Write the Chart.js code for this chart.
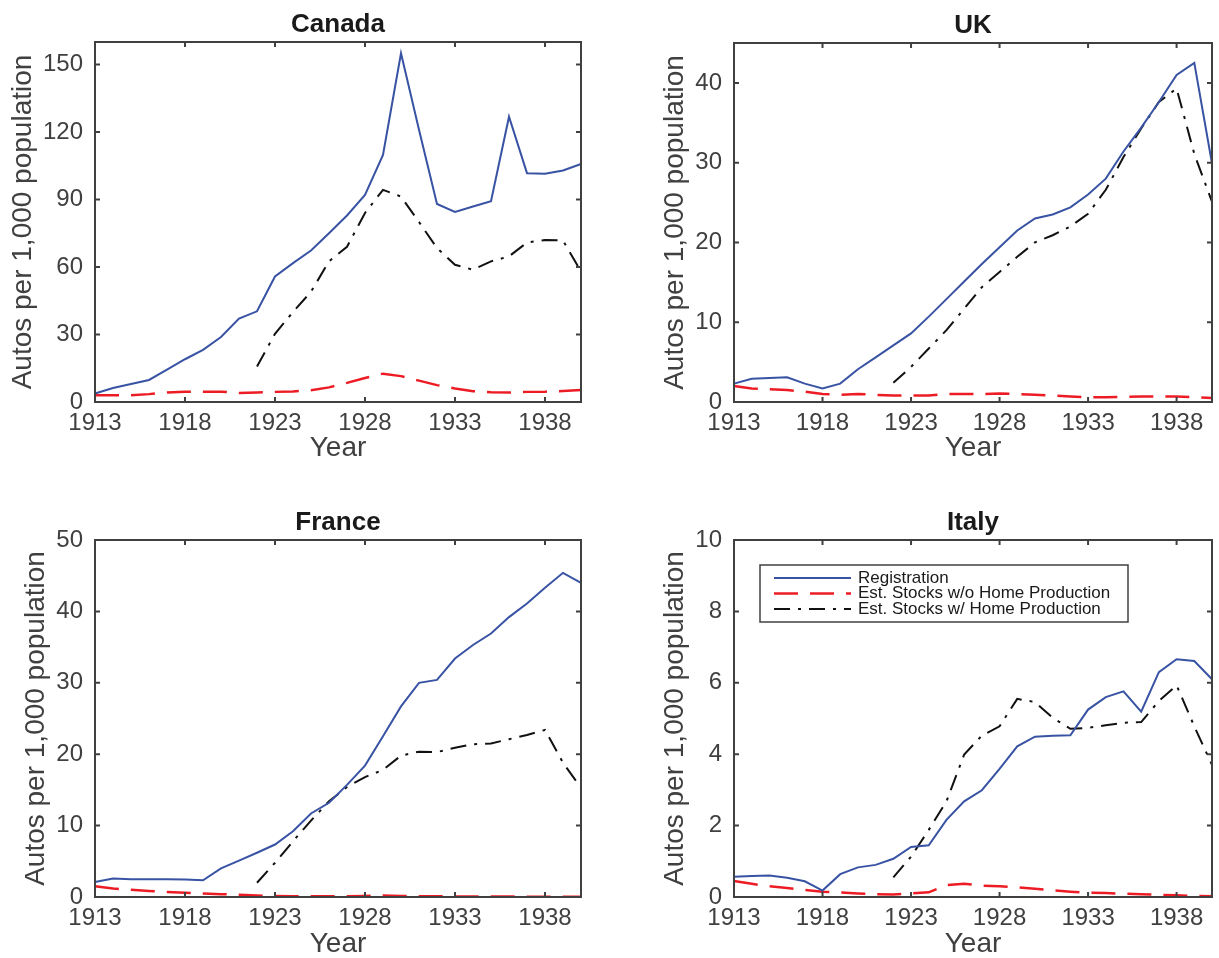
<!DOCTYPE html>
<html>
<head>
<meta charset="utf-8">
<script src="https://cdn.jsdelivr.net/npm/chart.js@4.4.1/dist/chart.umd.min.js"></script>
<style>
  body { margin: 0; background: #fff; }
  #wrap { position: relative; width: 1219px; height: 958px; }
  canvas { position: absolute; }
</style>
</head>
<body>
<div id="wrap">
  <canvas id="canadaChart" width="610" height="480" style="left:0;top:0"></canvas>
  <canvas id="ukChart" width="609" height="480" style="left:610px;top:0"></canvas>
  <canvas id="franceChart" width="610" height="478" style="left:0;top:480px"></canvas>
  <canvas id="italyChart" width="609" height="478" style="left:610px;top:480px"></canvas>
</div>
<script>
// ---- data ----
const years = [1913, 1914, 1915, 1916, 1917, 1918, 1919, 1920, 1921, 1922, 1923, 1924, 1925, 1926,
               1927, 1928, 1929, 1930, 1931, 1932, 1933, 1934, 1935, 1936, 1937, 1938, 1939, 1940];
const xTicks = [1913, 1918, 1923, 1928, 1933, 1938];
const seriesNames = ['Registration', 'Est. Stocks w/o Home Production', 'Est. Stocks w/ Home Production'];

const canadaReg = [3.8, 6.2, 8, 9.8, 14.4, 19, 23.2, 28.9, 37.1, 40.3, 55.8, 61.7, 67.3, 75,
                   82.9, 92, 109.8, 155, 121, 88, 84.5, 86.9, 89.2, 126.8, 101.7, 101.4, 102.9, 105.8];
const canadaNoHome = [3, 3, 3, 3.5, 4.2, 4.6, 4.6, 4.6, 4.0, 4.2, 4.5, 4.7, 5.2, 6.5,
                      8.5, 10.7, 12.6, 11.5, 9.5, 7.5, 6.0, 4.8, 4.3, 4.2, 4.5, 4.6, 4.9, 5.3];
const canadaHome = [null, null, null, null, null, null, null, null, null, 15.8, 30.3, 40, 49, 62.5,
                    69, 84, 94.3, 91.3, 80, 68.4, 61, 58.8, 62.5, 64.7, 70.9, 72, 71.8, 58];
const canadaYTicks = [0, 30, 60, 90, 120, 150];

const ukReg = [2.3, 2.9, 3.0, 3.1, 2.3, 1.7, 2.3, 4.1, 5.6, 7.1, 8.6, 10.7, 12.9, 15.1,
               17.3, 19.4, 21.5, 23.0, 23.5, 24.4, 26.0, 28.0, 31.4, 34.4, 37.6, 41.0, 42.5, 29.9];
const ukNoHome = [2.0, 1.7, 1.6, 1.5, 1.3, 1.0, 0.9, 1.0, 0.9, 0.8, 0.8, 0.8, 1.0, 1.0,
                  1.0, 1.05, 1.0, 0.9, 0.8, 0.7, 0.6, 0.6, 0.65, 0.7, 0.7, 0.7, 0.6, 0.5];
const ukHome = [null, null, null, null, null, null, null, null, null, 2.4, 4.4, 6.7, 9.0, 11.7,
                14.4, 16.3, 18.2, 20.0, 20.9, 22.0, 23.6, 26.6, 30.7, 34.3, 37.6, 39.3, 31.1, 25.1];
const ukYTicks = [0, 10, 20, 30, 40];

const franceReg = [2.1, 2.6, 2.5, 2.5, 2.5, 2.45, 2.35, 4.0, 5.1, 6.2, 7.35, 9.2, 11.7, 13.2,
                   15.7, 18.4, 22.5, 26.7, 30.0, 30.4, 33.4, 35.3, 36.9, 39.2, 41.1, 43.3, 45.4, 44.0];
const franceNoHome = [1.5, 1.2, 1.0, 0.85, 0.7, 0.6, 0.5, 0.4, 0.3, 0.2, 0.15, 0.1, 0.1, 0.1,
                      0.12, 0.15, 0.2, 0.15, 0.12, 0.1, 0.08, 0.07, 0.06, 0.06, 0.05, 0.05, 0.05, 0.05];
const franceHome = [null, null, null, null, null, null, null, null, null, 2.0, 4.8, 7.8, 10.7, 13.4,
                    15.4, 16.8, 17.8, 19.8, 20.35, 20.3, 20.9, 21.4, 21.5, 22.1, 22.7, 23.4, 18.8, 15.3];
const franceYTicks = [0, 10, 20, 30, 40, 50];

const italyReg = [0.57, 0.59, 0.6, 0.54, 0.44, 0.18, 0.64, 0.83, 0.9, 1.07, 1.4, 1.45, 2.16, 2.68,
                  2.99, 3.59, 4.22, 4.49, 4.52, 4.53, 5.25, 5.6, 5.76, 5.19, 6.3, 6.66, 6.61, 6.1];
const italyNoHome = [0.45, 0.37, 0.3, 0.25, 0.2, 0.15, 0.13, 0.1, 0.08, 0.07, 0.1, 0.13, 0.33, 0.37,
                     0.32, 0.3, 0.27, 0.23, 0.19, 0.15, 0.12, 0.11, 0.09, 0.08, 0.06, 0.05, 0.03, 0.02];
const italyHome = [null, null, null, null, null, null, null, null, null, 0.55, 1.13, 1.88, 2.68, 3.99,
                   4.52, 4.78, 5.55, 5.46, 5.02, 4.71, 4.74, 4.81, 4.88, 4.9, 5.49, 5.93, 4.78, 3.7];
const italyYTicks = [0, 2, 4, 6, 8, 10];

const axisColor = '#404040';
Chart.defaults.font.family = '"Liberation Sans", Arial, Helvetica, sans-serif';
Chart.defaults.color = axisColor;

// frame, inside ticks, panel title and (optional) legend box, MATLAB style
const framePlugin = {
  id: 'frame',
  afterDraw(chart, args, opts) {
    const { ctx, chartArea: a, scales: { x, y } } = chart;
    ctx.save();
    ctx.strokeStyle = axisColor;
    ctx.lineWidth = 2;
    ctx.setLineDash([]);
    ctx.strokeRect(a.left, a.top, a.right - a.left, a.bottom - a.top);

    ctx.beginPath();
    xTicks.forEach(t => {
      const px = x.getPixelForValue(years.indexOf(t));
      ctx.moveTo(px, a.bottom); ctx.lineTo(px, a.bottom - 5);
      ctx.moveTo(px, a.top); ctx.lineTo(px, a.top + 5);
    });
    y.ticks.forEach(t => {
      const py = y.getPixelForValue(t.value);
      ctx.moveTo(a.left, py); ctx.lineTo(a.left + 5, py);
      ctx.moveTo(a.right, py); ctx.lineTo(a.right - 5, py);
    });
    ctx.stroke();

    ctx.fillStyle = '#1a1a1a';
    ctx.font = 'bold 26px "Liberation Sans", Arial, sans-serif';
    ctx.textAlign = 'center';
    ctx.textBaseline = 'alphabetic';
    ctx.fillText(opts.title, (a.left + a.right) / 2, a.top - 10);

    if (opts.legend) {
      const bx = a.left + 26, by = a.top + 25, bw = 368, bh = 57;
      ctx.fillStyle = '#fff';
      ctx.fillRect(bx, by, bw, bh);
      ctx.lineWidth = 1.5;
      ctx.strokeRect(bx, by, bw, bh);
      ctx.font = '17px "Liberation Sans", Arial, sans-serif';
      ctx.textAlign = 'left';
      ctx.textBaseline = 'middle';
      chart.data.datasets.forEach((ds, i) => {
        const ly = by + 13 + i * 15.5;
        ctx.beginPath();
        ctx.strokeStyle = ds.borderColor;
        ctx.lineWidth = ds.borderWidth;
        ctx.setLineDash(ds.borderDash || []);
        ctx.moveTo(bx + 14, ly); ctx.lineTo(bx + 91, ly);
        ctx.stroke();
        ctx.fillStyle = '#1a1a1a';
        ctx.fillText(ds.label, bx + 98, ly);
      });
    }
    ctx.restore();
  }
};

function makeChart(p) {
  const canvasEl = document.getElementById(p.id);
  return new Chart(canvasEl, {
    type: 'line',
    data: {
      labels: years,
      datasets: [
        { label: seriesNames[0], data: p.reg, borderColor: '#3953a4', borderWidth: 2, pointRadius: 0, tension: 0 },
        { label: seriesNames[1], data: p.noHome, borderColor: '#ed1c24', borderWidth: 2.5, borderDash: [24, 12], pointRadius: 0, tension: 0 },
        { label: seriesNames[2], data: p.home, borderColor: '#111111', borderWidth: 2, borderDash: [16, 8, 3, 8], pointRadius: 0, tension: 0 }
      ]
    },
    options: {
      responsive: false,
      animation: false,
      events: [],
      layout: { padding: { top: p.area.top, right: p.w - p.area.right, left: 0, bottom: 0 } },
      plugins: {
        legend: { display: false },
        tooltip: { enabled: false },
        frame: { title: p.title, legend: p.legend }
      },
      scales: {
        x: {
          type: 'category',
          grid: { display: false, drawTicks: false },
          border: { display: false },
          ticks: {
            autoSkip: false, maxRotation: 0, padding: 7,
            font: { size: 24 }, color: axisColor,
            callback: function (value) {
              const lab = this.getLabelForValue(value);
              return xTicks.includes(Number(lab)) ? String(lab) : '';
            }
          },
          title: { display: true, text: 'Year', color: axisColor, font: { size: 28, lineHeight: 1 }, padding: { top: 0, bottom: p.xTitlePad } },
          afterFit: s => { s.height = p.h - p.area.bottom; }
        },
        y: {
          min: 0, max: p.yMax,
          grid: { display: false, drawTicks: false },
          border: { display: false },
          ticks: { padding: 12, font: { size: 24 }, color: axisColor },
          afterBuildTicks: s => { s.ticks = p.yTicks.map(v => ({ value: v })); },
          title: { display: true, text: 'Autos per 1,000 population', color: axisColor, font: { size: 28, lineHeight: 1 }, padding: { top: p.yTitleC - 14, bottom: 0 } },
          afterFit: s => { s.width = p.area.left; }
        }
      }
    },
    plugins: [framePlugin]
  });
}

makeChart({ id: 'canadaChart', title: 'Canada', w: 610, h: 480, area: { left: 95, top: 42, right: 581, bottom: 402 },
  yTitleC: 23.5, xTitlePad: 18, yMax: 160, yTicks: canadaYTicks, reg: canadaReg, noHome: canadaNoHome, home: canadaHome });
makeChart({ id: 'ukChart', title: 'UK', w: 609, h: 480, area: { left: 124, top: 43, right: 608, bottom: 402 },
  yTitleC: 675 - 610, xTitlePad: 18, yMax: 45, yTicks: ukYTicks, reg: ukReg, noHome: ukNoHome, home: ukHome });
makeChart({ id: 'franceChart', title: 'France', w: 610, h: 478, area: { left: 95, top: 60, right: 581, bottom: 417 },
  yTitleC: 36, xTitlePad: 0, yMax: 50, yTicks: franceYTicks, reg: franceReg, noHome: franceNoHome, home: franceHome });
makeChart({ id: 'italyChart', title: 'Italy', w: 609, h: 478, area: { left: 124, top: 60, right: 608, bottom: 417 },
  yTitleC: 675 - 610, xTitlePad: 0, yMax: 10, yTicks: italyYTicks, reg: italyReg, noHome: italyNoHome, home: italyHome, legend: true });
</script>
</body>
</html>
